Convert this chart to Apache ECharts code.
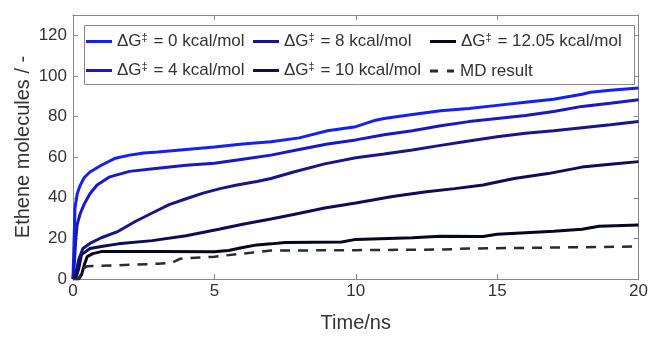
<!DOCTYPE html>
<html>
<head>
<meta charset="utf-8">
<script src="https://cdn.jsdelivr.net/npm/echarts@6/dist/echarts.min.js"></script>
<style>
html,body{margin:0;padding:0;background:#fff;}
#chart{width:651px;height:338px;}
</style>
</head>
<body>
<div id="chart"></div>
<script>
// ---- data ----
const xTicks = [0, 5, 10, 15, 20];
const yTicks = [0, 20, 40, 60, 80, 100, 120];

const seriesNames = ['0', '4', '8', '10', '12.05'];

const time0 = [0, 0.03, 0.07, 0.15, 0.25, 0.4, 0.6, 1, 1.5, 2, 2.5, 3, 4, 5, 6, 7, 8, 9, 10, 10.7, 11, 12, 13, 14, 15, 16, 17, 18, 18.3, 19, 20];
const ethene0 = [0, 15, 35, 42, 46, 50, 52.7, 56, 59.5, 61, 62, 62.5, 63.8, 65, 66.5, 67.6, 69.5, 73, 75, 78.2, 79, 81, 82.8, 84, 85.5, 87, 88.5, 91, 92, 93, 94];

const time4 = [0, 0.05, 0.1, 0.15, 0.25, 0.4, 0.6, 0.85, 1.3, 2, 3, 4, 5, 6, 7, 8, 9, 10, 11, 12, 13, 14, 15, 16, 17, 18, 19, 20];
const ethene4 = [0, 8, 20, 27, 32, 37, 42, 46.3, 50.3, 53, 54.5, 56, 57, 59, 61, 63.8, 66.5, 68.5, 71, 73, 75.5, 77.5, 79, 80.5, 82.5, 85, 86.5, 88.3];

const time8 = [0, 0.1, 0.2, 0.35, 0.6, 1, 1.6, 2.2, 2.8, 3.4, 4, 4.6, 5.2, 5.8, 6.5, 7, 7.8, 8.9, 10, 11, 12, 13, 14, 15, 16, 17, 18, 19, 20];
const ethene8 = [0, 3, 9.5, 15, 17.5, 20.3, 23.5, 28.3, 32.5, 36.6, 39.5, 42.3, 44.5, 46.3, 48, 49.5, 52.7, 56.7, 59.7, 61.5, 63.5, 65.8, 68, 70, 71.8, 73, 74.5, 76, 77.6];

const time10 = [0, 0.1, 0.2, 0.3, 0.6, 1, 1.6, 2.8, 4, 5.2, 6, 7, 7.8, 8.9, 10, 11.3, 12.5, 13.5, 14.5, 15.6, 16.8, 18, 19, 20];
const ethene10 = [0, 0.5, 5, 12, 15, 16, 17.3, 18.9, 21.3, 24.6, 27, 29.5, 31.8, 35, 37.4, 40.6, 43, 44.5, 46.3, 49.5, 51.9, 55.1, 56.5, 57.8];

const time12 = [0, 0.2, 0.3, 0.4, 0.5, 0.7, 1, 3, 5, 5.5, 6, 6.5, 7, 7.5, 9.5, 10, 12, 13, 14.5, 15, 17, 18, 18.6, 20];
const ethene12 = [0, 0, 2, 7, 11, 12.5, 13.5, 13.6, 13.4, 14, 15.5, 16.8, 17.3, 18, 18.2, 19.5, 20.3, 21, 20.9, 22, 23.5, 24.5, 26, 26.6];

const timeMD = [0, 0.2, 0.35, 0.5, 1, 2, 3, 3.5, 3.8, 5, 6, 7, 10, 13, 14, 17, 20];
const etheneMD = [0, 0, 5, 6.3, 6.5, 7, 7.5, 8, 10, 11, 12.5, 14, 14.2, 14.5, 15, 15.5, 16];

// ---- styling ----
const FONT = "'Liberation Sans', Arial, sans-serif";
const TXT = '#333333';
const AX = '#888888';
const colors = ['#1420f5', '#1818c8', '#16168c', '#0c0c58', '#06061e'];
const mdColor = '#2b2b2b';

function pairs(t, v) { return t.map((x, i) => [x, v[i]]); }

const curves = [
  [time0, ethene0], [time4, ethene4], [time8, ethene8], [time10, ethene10], [time12, ethene12]
];

const series = curves.map((c, i) => ({
  name: 'dg' + seriesNames[i],
  type: 'line',
  data: pairs(c[0], c[1]),
  showSymbol: false,
  symbol: 'none',
  lineStyle: { width: 3, color: colors[i] },
  itemStyle: { color: colors[i] },
  xAxisIndex: 0, yAxisIndex: 0,
  animation: false
}));
series.push({
  name: 'md',
  type: 'line',
  data: pairs(timeMD, etheneMD),
  showSymbol: false,
  symbol: 'none',
  lineStyle: { width: 2.5, color: mdColor, type: [10, 8] },
  itemStyle: { color: mdColor },
  xAxisIndex: 0, yAxisIndex: 0,
  animation: false
});

const rich = {
  a: { fontSize: 17, fontFamily: FONT, color: TXT },
  s: { fontSize: 11, fontFamily: FONT, color: TXT, verticalAlign: 'top', padding: [0, 1, 8, 0] }
};
function legendLabel(name) {
  if (name === 'md') return '{a|MD result}';
  return '{a|ΔG}{s|‡}{a| = ' + name.slice(2) + ' kcal/mol}';
}
const solidIcon = 'rect';
const dashIcon = 'path://M0,0H8V3H0Z M17,0H24V3H17Z';
const legendPos = [
  ['dg0', 86, 42], ['dg8', 253, 42], ['dg12.05', 430, 42],
  ['dg4', 86, 71], ['dg10', 253, 71], ['md', 430, 71]
];
const legends = legendPos.map(p => ({
  data: [{ name: p[0], icon: p[0] === 'md' ? dashIcon : solidIcon }],
  left: p[1], top: p[2] - (p[0] === 'md' ? 8.5 : 10),
  padding: 0,
  z: 10,
  itemWidth: 26, itemHeight: 3,
  formatter: legendLabel,
  textStyle: { rich: rich, fontFamily: FONT, fontSize: 17, color: TXT },
  selectedMode: false
}));

const baseAxis = {
  axisLine: { show: true, onZero: false, lineStyle: { color: AX, width: 1 } },
  axisTick: { show: true, inside: true, length: 5, lineStyle: { color: AX } },
  splitLine: { show: false }
};

const option = {
  animation: false,
  backgroundColor: '#ffffff',
  grid: { left: 73, right: 10, top: 15, bottom: 52, containLabel: false },
  legend: legends,
  graphic: [{
    type: 'rect', left: 84, top: 25, z: 3,
    shape: { width: 550, height: 59 },
    style: { fill: '#ffffff', stroke: '#8a8a8a', lineWidth: 1 }
  }],
  xAxis: [
    Object.assign({}, baseAxis, {
      type: 'value', min: xTicks[0], max: xTicks[xTicks.length - 1], interval: 5,
      position: 'bottom',
      name: 'Time/ns', nameLocation: 'middle', nameGap: 34, nameMoveOverlap: false,
      nameTextStyle: { fontSize: 20, fontFamily: FONT, color: TXT },
      axisLabel: { fontSize: 17, fontFamily: FONT, color: TXT, margin: 4 }
    }),
    Object.assign({}, baseAxis, {
      type: 'value', min: xTicks[0], max: xTicks[xTicks.length - 1], interval: 5,
      position: 'top', axisLabel: { show: false }
    })
  ],
  yAxis: [
    Object.assign({}, baseAxis, {
      type: 'value', min: 0, max: 130, interval: 20,
      position: 'left',
      name: 'Ethene molecules / -', nameLocation: 'middle', nameGap: 40, nameMoveOverlap: false,
      nameTextStyle: { fontSize: 20, fontFamily: FONT, color: TXT },
      axisLabel: { fontSize: 17, fontFamily: FONT, color: TXT, margin: 6, showMaxLabel: false,
        formatter: v => (yTicks.indexOf(v) >= 0 ? String(v) : '') }
    }),
    Object.assign({}, baseAxis, {
      type: 'value', min: 0, max: 130, interval: 20,
      position: 'right', axisLabel: { show: false }
    })
  ],
  series: series
};

const chart = echarts.init(document.getElementById('chart'), null, { renderer: 'canvas' });
chart.setOption(option);
</script>
</body>
</html>
